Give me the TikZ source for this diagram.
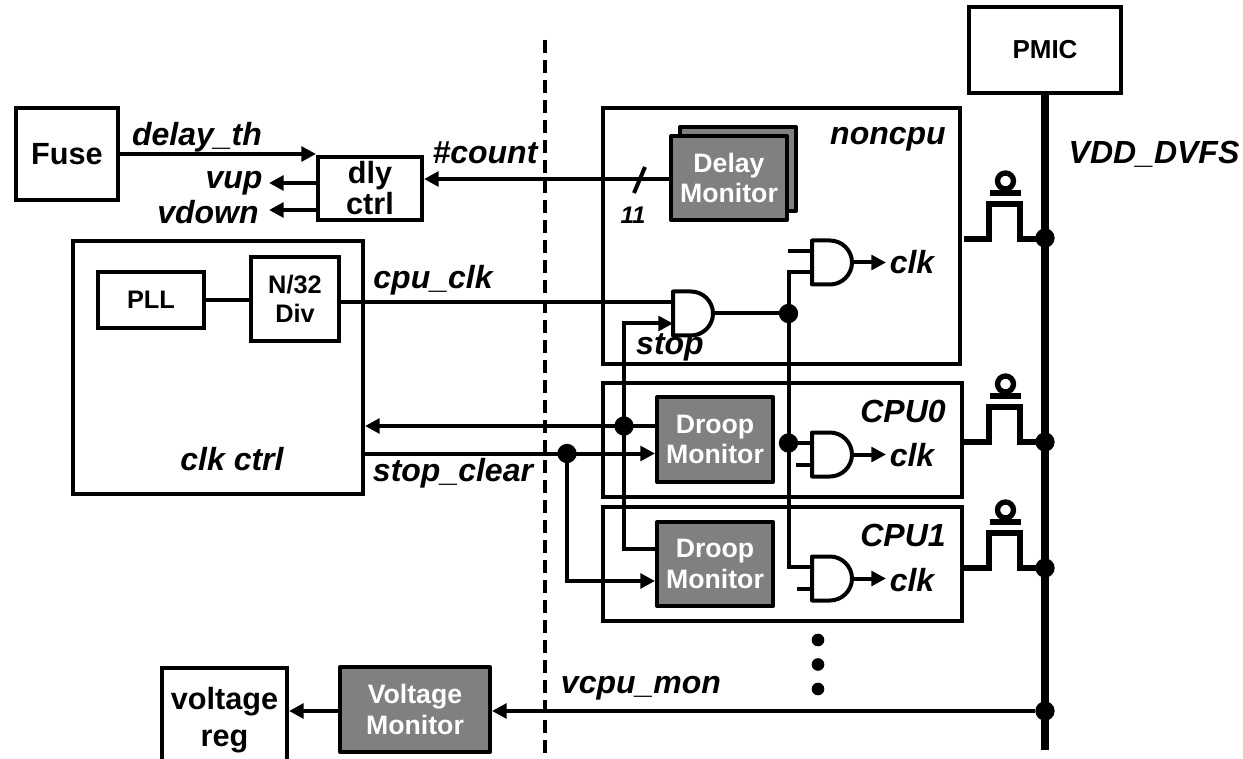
\documentclass[tikz,border=0pt]{standalone}
\usepackage{fontspec}
\setmainfont{Liberation Sans}
\usetikzlibrary{arrows.meta,calc}
\newcommand{\fsz}[1]{\fontsize{#1}{1.14\dimexpr #1pt\relax}\selectfont}
\definecolor{mongray}{HTML}{808080}
\tikzset{
  x=0.75pt,y=-0.75pt,
  wire/.style={line width=3pt,line cap=butt},
  arr/.style={wire,-{Triangle[length=11pt,width=11pt]}},
  boxx/.style={draw,line width=3pt,fill=white,inner sep=0pt,align=center,font=\bfseries\fsz{19}},
  mon/.style={draw,line width=3pt,fill=mongray,text=white,inner sep=0pt,align=center,font=\bfseries\fsz{20},line join=round},
  lab/.style={inner sep=0pt,font=\bfseries\itshape\fsz{24},anchor=center},
  dot/.style={circle,fill=black,inner sep=0pt,minimum size=14.5pt},
  sdot/.style={circle,fill=black,inner sep=0pt,minimum size=9.5pt},
  andgate/.pic={
    \draw[line width=3pt,line join=round] (0,-22) -- (18,-22) .. controls (30,-22) and (40,-12) .. (40,0) .. controls (40,12) and (30,22) .. (18,22) -- (0,22) -- cycle;
    \coordinate (-a) at (0,-11.5);
    \coordinate (-b) at (0,10);
    \coordinate (-o) at (40,0);
  },
  pmos/.pic={
    \draw[line width=4.5pt,line join=miter] (-81,0) -- (-56,0) -- (-56,-35) -- (-25,-35) -- (-25,0) -- (0,0);
    \draw[line width=4.5pt] (-55.5,-46) -- (-24.5,-46);
    \draw[line width=4pt] (-39.5,-58) circle[radius=8];
  }
}
\begin{document}
\begin{tikzpicture}
\useasboundingbox (0,0) rectangle (1243,759);
\begin{scope}
\clip (0,0) rectangle (1243,759);
% divider
\coordinate (divT) at (545,40); \coordinate (divB) at (545,759);
\draw[line width=3pt,dash pattern=on 10pt off 5pt] (divT) -- (divB);
% containers
\node[boxx,minimum width=357*0.75pt,minimum height=256*0.75pt] (noncpu) at (781.5,236) {};
\node[boxx,minimum width=359*0.75pt,minimum height=114*0.75pt] (cpu0) at (782.5,440) {};
\node[boxx,minimum width=359*0.75pt,minimum height=114*0.75pt] (cpu1) at (782.5,564) {};
\node[boxx,minimum width=290*0.75pt,minimum height=253*0.75pt] (clkctrl) at (218,367.5) {};
% bus
\node[boxx,font=\bfseries\fsz{19.5},minimum width=152*0.75pt,minimum height=86*0.75pt] (pmic) at (1045,50) {PMIC};
\coordinate (busB) at (1045,750);
\draw[line width=5.6pt] (pmic.south) -- (busB);
% boxes
\node[boxx,font=\bfseries\fsz{23},minimum width=102*0.75pt,minimum height=92*0.75pt] (fuse) at (67,154) {Fuse};
\node[boxx,font=\bfseries\fsz{23},minimum width=104*0.75pt,minimum height=63*0.75pt] (dly) at (370,188.5) {dly\\[-3pt]ctrl};
\node[boxx,minimum width=106*0.75pt,minimum height=56*0.75pt] (pll) at (151,300) {PLL};
\node[boxx,minimum width=88*0.75pt,minimum height=84*0.75pt] (div) at (295,299) {N/32\\Div};
\node[boxx,font=\bfseries\fsz{23},minimum width=125*0.75pt,minimum height=104*0.75pt] (vreg) at (224.5,720) {voltage\\[2pt]reg};
\node[mon,minimum width=150*0.75pt,minimum height=85*0.75pt] (vmon) at (415,709.5) {Voltage\\Monitor};
\node[mon,minimum width=116*0.75pt,minimum height=84*0.75pt] (dmonb) at (738,169) {};
\node[mon,minimum width=116*0.75pt,minimum height=84*0.75pt] (dmon) at (729,178) {Delay\\Monitor};
\node[mon,minimum width=116*0.75pt,minimum height=85*0.75pt] (droop0) at (715,439.5) {Droop\\Monitor};
\node[mon,minimum width=116*0.75pt,minimum height=84*0.75pt] (droop1) at (715,564) {Droop\\Monitor};
% gates
\pic (g0) at (673,313.5) {andgate};
\pic (g1) at (812,262.5) {andgate};
\pic (g2) at (812,454.5) {andgate};
\pic (g3) at (812,578.5) {andgate};
% junctions
\node[dot] (j1) at (788.5,313.5) {};
\node[dot] (j2) at (788.5,443) {};
\node[dot] (j3) at (624,426) {};
\node[dot] (j4) at (567,453.5) {};
\node[dot] (b0) at (1045,238) {};
\node[dot] (b1) at (1045,442) {};
\node[dot] (b2) at (1045,568) {};
\node[dot] (b3) at (1045,711) {};
% top-level wires
\draw[arr] (fuse.east |- 0,154) -- (dly.west |- 0,154);
\coordinate (vupE) at (269,183); \coordinate (vdnE) at (269,210);
\draw[arr] (dly.west |- vupE) -- (vupE);
\draw[arr] (dly.west |- vdnE) -- (vdnE);
\draw[arr] (dmon.west |- 0,179) -- (dly.east |- 0,179);
\coordinate (slA) at (645,167); \coordinate (slB) at (634,193);
\draw[wire] (slA) -- (slB);
\draw[wire] (pll.east) -- (div.west |- pll.east);
\draw[wire] (div.east |- g0-a) -- (g0-a);
\draw[wire] (g0-o) -- (j1);
% vertical clock
\coordinate (c1) at (788.5,272.5);
\coordinate (c3) at (788.5,567);
\draw[wire,line join=miter] (g1-b) -- (c1) -- (c3) -- (g3-a);
\draw[wire] (j2) -- (g2-a);
% stubs
\coordinate (s1) at (788,251); \coordinate (s2) at (796,464.5); \coordinate (s3) at (797,588.5);
\draw[wire] (s1) -- (g1-a);
\draw[wire] (s2) -- (g2-b);
\draw[wire] (s3) -- (g3-b);
% outputs
\coordinate (o1) at (886,262.5); \coordinate (o2) at (886,454.5); \coordinate (o3) at (886,578.5);
\draw[arr] (g1-o) -- (o1);
\draw[arr] (g2-o) -- (o2);
\draw[arr] (g3-o) -- (o3);
% droop wiring
\coordinate (st1) at (624,323.5); \coordinate (st2) at (624,549);
\draw[arr,line join=miter] (st2 -| droop1.west) -- (st2) -- (st1) -- (g0-b);
\draw[arr] (droop0.west |- j3) -- (clkctrl.east |- j3);
\draw[arr] (clkctrl.east |- j4) -- (droop0.west |- j4);
\coordinate (sc) at (567,581);
\draw[arr,line join=miter] (j4) -- (sc) -- (droop1.west |- sc);
% voltage
\draw[arr] (b3) -- (vmon.east |- b3);
\draw[arr] (vmon.west |- b3) -- (vreg.east |- b3);
% pmos
\pic at (1045,239) {pmos};
\pic at (1045,442) {pmos};
\pic at (1045,568) {pmos};
% dots
\node[sdot] (d1) at (818,640) {};
\node[sdot] (d2) at (818,664.5) {};
\node[sdot] (d3) at (818,689) {};
\end{scope}
% labels
\node[lab] (t1) at (197,137) {delay\_th};
\node[lab] (t2) at (485,153) {\#count};
\node[lab] (t3) at (234,183) {vup};
\node[lab] (t4) at (208,212) {vdown};
\node[lab,font=\bfseries\itshape\fsz{18}] (t5) at (633,215) {11};
\node[lab] (t6) at (888,139) {noncpu};
\node[lab] (t7) at (1154,154) {VDD\_DVFS};
\node[lab] (t8) at (433,280) {cpu\_clk};
\node[lab] (t9) at (670,347) {stop};
\node[lab] (t10) at (453,473) {stop\_clear};
\node[lab] (t11) at (232,459) {clk ctrl};
\node[lab] (t12) at (912,262) {clk};
\node[lab] (t13) at (912,455) {clk};
\node[lab] (t14) at (912,580) {clk};
\node[lab] (t15) at (903,411) {CPU0};
\node[lab] (t16) at (903,535) {CPU1};
\node[lab] (t17) at (641,688) {vcpu\_mon};
\end{tikzpicture}
\end{document}
